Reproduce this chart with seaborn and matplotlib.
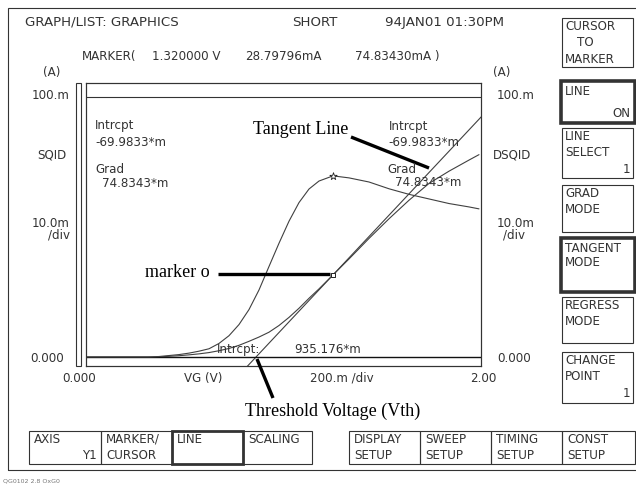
import numpy as np
import pandas as pd
import matplotlib
matplotlib.use("Agg")
import matplotlib.pyplot as plt
import seaborn as sns
from matplotlib.patches import Rectangle
from matplotlib.lines import Line2D

vg = [0.0, 0.1, 0.2, 0.3, 0.4, 0.45, 0.5, 0.55, 0.6, 0.65, 0.7, 0.75, 0.8, 0.85,
      0.9, 0.95, 1.0, 1.05, 1.1, 1.15, 1.2, 1.25, 1.32, 1.4, 1.5, 1.6, 1.7, 1.8,
      1.9, 2.0, 2.05]
sqid = [0, 0, 0, 0, 0, 0.05, 0.25, 0.45, 0.75, 1.1, 1.55, 2.2, 3.0, 4.1,
        5.5, 7.0, 8.7, 11.05, 13.9, 17.1, 20.6, 23.9, 28.79796, 34.4, 41.6, 48.5, 55.0, 60.9,
        65.2, 69.1, 71.0]
dsqid = [0, 0, 0, 0, 0, 0.2, 0.6, 1.0, 1.6, 2.4, 3.4, 5.6, 8.8, 13.4,
         19.6, 27.7, 37.4, 47.0, 56.1, 63.8, 69.4, 72.7, 74.8343, 74.0, 72.3, 69.5, 67.2, 65.3,
         63.4, 62.0, 61.2]

marker_v = 1.320000
marker_sqid = 28.79796      # mA
marker_dsqid = 74.83430     # mA
grad = 74.8343              # m
intercept = -69.9833        # m
vth = 935.176               # m (V)

xlim = (0.085, 2.06)
ylim1 = (-3.16, 96.14)
ylim2 = (-3.72, 113.2)

right_keys = [["CURSOR", "TO", "MARKER"], ["LINE", "", "ON"], ["LINE", "SELECT", "1"],
              ["GRAD", "MODE"], ["TANGENT", "MODE"], ["REGRESS", "MODE"],
              ["CHANGE", "POINT", "1"]]
bottom_keys = [["AXIS", "Y1"], ["MARKER/", "CURSOR"], ["LINE", ""], ["SCALING", ""],
               ["DISPLAY", "SETUP"], ["SWEEP", "SETUP"], ["TIMING", "SETUP"], ["CONST", "SETUP"]]

df = pd.DataFrame({"VG": vg, "SQID": sqid, "DSQID": dsqid})

# ---------------- figure ----------------
sns.set_style("white")
plt.rcParams["font.family"] = ["DejaVu Sans"]
W, H = 636, 486
fig = plt.figure(figsize=(W / 100, H / 100), dpi=100)
fig.patch.set_facecolor("white")
INK = "#333333"
MONO = "DejaVu Sans"
SERIF = "Liberation Serif"


def fx(x):
    return x / W


def fy(y):
    return 1 - y / H


def txt(x, y, s, ha="left", size=8.6, family=MONO, color=INK):
    # y = vertical centre of capital letters (pixels from top)
    fig.text(fx(x), fy(y + 3.6), s, ha=ha, va="baseline", fontsize=size,
             family=family, color=color)


def rect(x0, y0, x1, y1, lw=0.8):
    fig.add_artist(Rectangle((fx(x0), fy(y1)), fx(x1) - fx(x0), fy(y0) - fy(y1),
                             transform=fig.transFigure, fill=False, lw=lw, ec="#333"))


def seg(x0, y0, x1, y1, lw=2.4, color="k"):
    fig.add_artist(Line2D([fx(x0), fx(x1)], [fy(y0), fy(y1)], transform=fig.transFigure,
                          lw=lw, color=color, solid_capstyle="butt"))


# outer frame
rect(8, 8, 660, 470, lw=0.8)

# ---------------- plot area ----------------
ax = fig.add_axes([fx(86), fy(366), fx(481) - fx(86), (366 - 83) / H])
ax2 = ax.twinx()

sns.lineplot(data=df, x="VG", y="SQID", ax=ax, color="#404040", lw=0.8)
sns.lineplot(data=df, x="VG", y="DSQID", ax=ax2, color="#404040", lw=0.8)
tan_x = np.array([0.0, 2.2])
sns.lineplot(x=tan_x, y=grad * tan_x + intercept, ax=ax, color="#404040", lw=0.8)
ax.axhline(0, color="#111", lw=1.0)
ax.plot([0, 1], [0.9505, 0.9505], transform=ax.transAxes, color="#333", lw=0.8)
ax.scatter([marker_v], [marker_sqid], marker="s", s=10, facecolor="white",
           edgecolor="#222", linewidth=0.7, zorder=5)
ax2.scatter([marker_v], [marker_dsqid], marker="*", s=30, facecolor="white",
            edgecolor="#222", linewidth=0.6, zorder=5)
ax.set_xlim(*xlim)
ax.set_ylim(*ylim1)
ax2.set_ylim(*ylim2)
for a in (ax, ax2):
    a.set_facecolor("none")
    for sp in a.spines.values():
        sp.set_color("#333")
        sp.set_linewidth(0.8)
    a.set_xlabel("")
    a.set_ylabel("")
    a.set_xticks([])
    a.set_yticks([])

# left scale bar
rect(76, 83, 81, 366, lw=0.8)

# ---------------- header texts ----------------
txt(25, 22, "GRAPH/LIST: GRAPHICS", size=9.6)
txt(292, 22, "SHORT", size=9.6)
txt(385, 22, "94JAN01 01:30PM", size=9.6)
txt(82, 56, "MARKER(")
txt(152, 56, f"{marker_v:.6f} V")
txt(245, 56, f"{marker_sqid:.5f}mA")
txt(355, 56, f"{marker_dsqid:.5f}mA )")

# axis labels
txt(43, 72, "(A)")
txt(493, 72, "(A)")
txt(70, 95, "100.m", ha="right")
txt(497, 95, "100.m")
txt(66, 155, "SQID", ha="right")
txt(493, 155, "DSQID")
txt(70, 223, "10.0m", ha="right")
txt(70, 235, "/div", ha="right")
txt(497, 223, "10.0m")
txt(503, 235, "/div")
txt(64, 358, "0.000", ha="right")
txt(497, 358, "0.000")
txt(79, 378, "0.000", ha="center")
txt(184, 378, "VG (V)")
txt(310, 378, "200.m /div")
txt(483, 378, "2.00", ha="center")

# in-plot readouts
txt(95, 125, "Intrcpt")
txt(95, 142, f"{intercept:.4f}*m")
txt(95, 169, "Grad")
txt(102, 183, f"{grad:.4f}*m")
txt(389, 126, "Intrcpt")
txt(388, 142, f"{intercept:.4f}*m")
txt(387, 169, "Grad")
txt(395, 182, f"{grad:.4f}*m")
txt(217, 349, "Intrcpt:")
txt(294, 349, f"{vth:.3f}*m")

# serif annotations with leader lines
fig.text(fx(253), fy(134), "Tangent Line", family=SERIF, fontsize=13, va="baseline", color="k")
seg(351, 137, 429, 168)
fig.text(fx(145), fy(277), "marker o", family=SERIF, fontsize=13, va="baseline", color="k")
seg(218, 274.5, 330, 274.5)
fig.text(fx(245), fy(416), "Threshold Voltage (Vth)", family=SERIF, fontsize=13,
         va="baseline", color="k")
seg(257, 359, 273, 398)

# ---------------- right soft keys ----------------
tops = [18, 81, 128, 185, 238, 297, 352]
bots = [67, 123, 178, 232, 292, 343, 403]
thick = [False, True, False, False, True, False, False]
rows = [8, 24, 41]
for keys, t, b, th in zip(right_keys, tops, bots, thick):
    if th:
        rect(560.5, t, 634.5, b, lw=2.6)
    else:
        rect(562, t, 633, b, lw=0.8)
    for i, s in enumerate(keys):
        if not s:
            continue
        yy = t + rows[i] + (2 if th and i == 0 else 0)
        if s in ("1", "ON"):
            txt(630, yy if not th else t + 32, s, ha="right")
        elif s == "TO":
            txt(577, yy, s)
        else:
            txt(565, yy, s)

# ---------------- bottom soft keys ----------------
lefts = [29, 101, 172, 243, 349, 420, 491, 562]
rights = [101, 172, 243, 312, 420, 491, 562, 635]
for i, (keys, l, r) in enumerate(zip(bottom_keys, lefts, rights)):
    if i == 2:
        rect(l, 431, r, 464, lw=2.0)
    else:
        rect(l, 431, r, 464, lw=0.8)
    txt(l + 5, 439, keys[0])
    if keys[1]:
        if keys[1] == "Y1":
            txt(r - 4, 455, keys[1], ha="right")
        else:
            txt(l + 5, 455, keys[1])

fig.text(fx(3), fy(482), "QG0102 2.8 OxG0", fontsize=4.5, color="#777", family="DejaVu Sans")

fig.savefig("out.png", dpi=100, facecolor="white")
